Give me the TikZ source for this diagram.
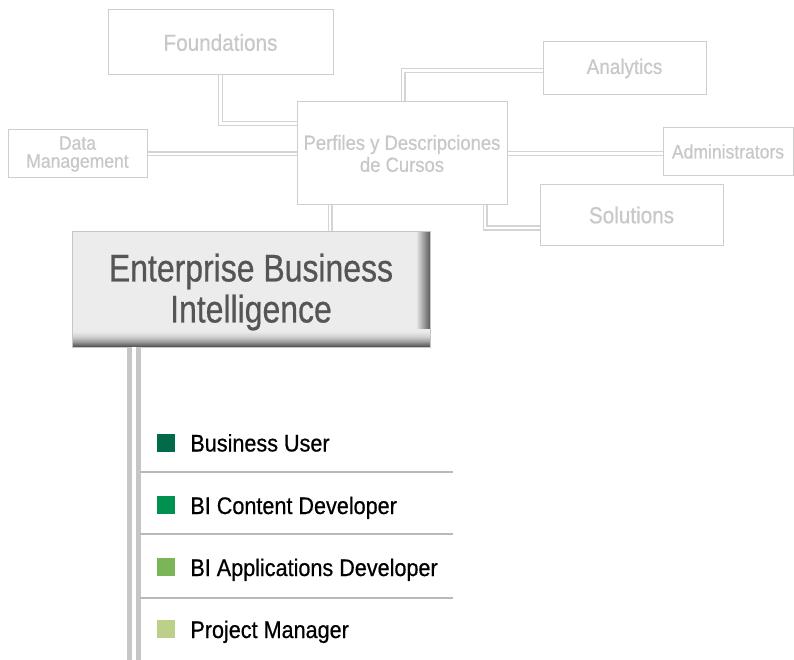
\documentclass[tikz,border=0pt]{standalone}
\usepackage{fontspec}
\setmainfont{Liberation Sans}[FakeStretch=0.9, FakeBold=0.6]
\newfontfamily\condfont{Liberation Sans}[FakeStretch=0.83, FakeBold=0.6]
\usetikzlibrary{positioning}
\definecolor{myLine}{RGB}{206,206,206}
\definecolor{myText}{RGB}{200,200,200}
\definecolor{myLink}{RGB}{212,212,212}
\definecolor{myTrunk}{RGB}{198,198,198}
\definecolor{mySep}{RGB}{185,185,185}
\definecolor{myBox}{RGB}{236,236,236}
\definecolor{myDark}{RGB}{85,85,85}
\definecolor{greenA}{RGB}{0,106,74}
\definecolor{greenB}{RGB}{0,145,80}
\definecolor{greenC}{RGB}{122,181,88}
\definecolor{greenD}{RGB}{188,208,138}

\tikzset{
  topbox/.style={draw=myLine, line width=1pt, text=myText, align=center, inner sep=0pt, fill=white},
  ebibox/.style={draw=gray!45, line width=0.6pt, fill=myBox, text=myDark, align=center,
    minimum width=358pt, minimum height=116pt, inner sep=0pt, text depth=2pt,
    font=\condfont\fontsize{38.5}{41}\selectfont,
    path picture={
      \foreach \i in {0,...,13}{
        \pgfmathtruncatemacro\shadeval{8+\i*4}
        \fill[black!\shadeval] ([xshift={(\i-14)*1pt}]path picture bounding box.north east) rectangle ([xshift={(\i-12.5)*1pt}]path picture bounding box.south east);
      }
      \foreach \i in {0,...,17}{
        \pgfmathtruncatemacro\shadeval{8+\i*\i/5}
        \fill[black!\shadeval] ([yshift={(18-\i)*1pt}]path picture bounding box.south west) rectangle ([yshift={(16.5-\i)*1pt}]path picture bounding box.south east);
      }
    }},
  link/.style={draw=myLink, line width=1.3pt, double=white, double distance=2.4pt},
  trunk/.style={draw=myTrunk, line width=4.5pt, double=white, double distance=4.5pt},
  sep/.style={draw=mySep, line width=2pt},
  sqmark/.style={minimum size=18pt, inner sep=0pt},
  itemtext/.style={inner sep=0pt, anchor=base west, font=\fontsize{24}{26}\selectfont}
}

\begin{document}
\begin{tikzpicture}[x=1pt,y=-1pt]
  \useasboundingbox (0,0) rectangle (794,660);

  % course boxes around the centre
  \node[topbox, minimum width=225pt, minimum height=65pt, font=\fontsize{23}{25}\selectfont] (found) at (220.5,42.5) {Foundations};
  \node[topbox, minimum width=139pt, minimum height=48pt, font=\fontsize{19.5}{18}\selectfont] (dataman) at (77.5,154) {Data\\Management};
  \node[topbox, minimum width=210pt, minimum height=103pt, font=\fontsize{20.5}{22}\selectfont] (perf) at (402,153.5) {Perfiles y Descripciones\\de Cursos};
  \node[topbox, minimum width=163pt, minimum height=53pt, font=\fontsize{21}{23}\selectfont] (analy) at (624.5,68.5) {Analytics};
  \node[topbox, minimum width=130pt, minimum height=48pt, font=\fontsize{19.5}{21}\selectfont] (admin) at (728,151.5) {Administrators};
  \node[topbox, minimum width=183pt, minimum height=60pt, font=\fontsize{23}{25}\selectfont] (solu) at (631.5,215) {Solutions};

  \draw[link] (found.south) |- ([yshift=30pt]perf.west);
  \draw[link] (dataman.east) -- (dataman.east -| perf.west);
  \draw[link] ([xshift=1pt]perf.north) |- ([yshift=-2pt]analy.west);
  \draw[link] (perf.east) -- (perf.east -| admin.west);
  \draw[link] ([xshift=83pt]perf.south) |- ([yshift=-13pt]solu.west);

  % main box
  \node[ebibox] (ebi) at (251,289) {Enterprise Business\\Intelligence};
  \draw[link] ([xshift=-72pt]perf.south) -- ([xshift=-72pt]perf.south |- ebi.north);

  \coordinate (trunkend) at (134,660);
  \draw[trunk] (ebi.south -| trunkend) -- (trunkend);

  % roles
  \foreach \y in {472,534,598}
    \draw[sep] (140,\y) -- (453,\y);
  \foreach \n/\c/\y/\t in {bu/greenA/442.5/Business User, cd/greenB/505/BI Content Developer, ad/greenC/567/BI Applications Developer, pm/greenD/629/Project Manager}{
    \node[sqmark, fill=\c] (\n) at (166,\y) {};
    \node[itemtext] (\n-t) at ([xshift=15pt,yshift=-9pt]\n.east) {\t};
  }
\end{tikzpicture}
\end{document}
